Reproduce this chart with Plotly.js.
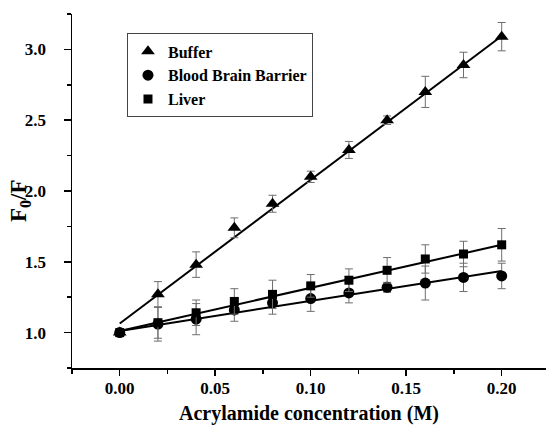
<!DOCTYPE html>
<html>
<head>
<meta charset="utf-8">
<script src="https://cdn.plot.ly/plotly-3.0.1.min.js"></script>
<style>html,body{margin:0;padding:0;background:#fff;}#chart{width:546px;height:427px;}</style>
</head>
<body>
<div id="chart"></div>
<script>
const conc = [0.00, 0.02, 0.04, 0.06, 0.08, 0.10, 0.12, 0.14, 0.16, 0.18, 0.20];
const buffer = [1.00, 1.27, 1.48, 1.74, 1.91, 2.10, 2.29, 2.50, 2.70, 2.89, 3.09];
const bufferErr = [0.02, 0.09, 0.09, 0.07, 0.06, 0.04, 0.06, 0.03, 0.11, 0.09, 0.10];
const bbb = [1.00, 1.06, 1.095, 1.16, 1.21, 1.24, 1.28, 1.32, 1.35, 1.39, 1.40];
const bbbErr = [0.02, 0.12, 0.11, 0.08, 0.08, 0.09, 0.07, 0.035, 0.12, 0.10, 0.09];
const liver = [1.00, 1.07, 1.14, 1.22, 1.27, 1.33, 1.37, 1.44, 1.52, 1.555, 1.62];
const liverErr = [0.02, 0.11, 0.09, 0.09, 0.10, 0.08, 0.08, 0.09, 0.10, 0.09, 0.115];
const fitX = [0.00, 0.20];
const bufferFit = [1.064, 3.095];
const bbbFit = [1.012, 1.435];
const liverFit = [1.012, 1.62];
const seriesNames = ['Buffer', 'Blood Brain Barrier', 'Liver'];
const xTitle = 'Acrylamide concentration (M)';
const yTitle = 'F<sub>0</sub>/F';

const FONT = '"Liberation Serif", "Times New Roman", serif';
const errStyle = {type: 'data', visible: true, color: '#6e6e6e', thickness: 1, width: 4};

function fitTrace(y) {
  return {x: fitX, y: y, mode: 'lines', line: {color: '#000', width: 2}, showlegend: false, hoverinfo: 'skip'};
}
function ptTrace(name, y, err, symbol, size) {
  return {x: conc, y: y, name: name, mode: 'markers',
    marker: {symbol: symbol, size: size, color: '#000'},
    error_y: Object.assign({array: err}, errStyle)};
}

const data = [
  fitTrace(bufferFit), fitTrace(bbbFit), fitTrace(liverFit),
  ptTrace(seriesNames[0], buffer, bufferErr, 'triangle-up', 12),
  ptTrace(seriesNames[1], bbb, bbbErr, 'circle', 11),
  ptTrace(seriesNames[2], liver, liverErr, 'square', 9)
];

const layout = {
  width: 546, height: 427,
  margin: {l: 72, r: 0, t: 14, b: 59},
  paper_bgcolor: '#fff', plot_bgcolor: '#fff',
  font: {family: FONT, color: '#000', weight: 700},
  showlegend: true,
  legend: {x: 0.116, y: 0.945, xanchor: 'left', yanchor: 'top',
    bordercolor: '#444', borderwidth: 1, bgcolor: '#fff',
    font: {family: FONT, size: 16, weight: 700, color: '#000'},
    entrywidth: 160, entrywidthmode: 'pixels',
    tracegroupgap: 0},
  xaxis: {
    range: [-0.025, 0.2232], autorange: false,
    showgrid: false, zeroline: false,
    showline: true, linecolor: '#000', linewidth: 1.5,
    ticks: 'outside', ticklen: 6, tickwidth: 1.5, tickcolor: '#000',
    tick0: 0, dtick: 0.05, tickformat: '.2f',
    minor: {dtick: 0.025, ticks: 'outside', ticklen: 4, tickwidth: 1.5, tickcolor: '#000', showgrid: false},
    tickfont: {family: FONT, size: 17, weight: 700},
    ticklabelstandoff: -2
  },
  yaxis: {
    range: [0.75, 3.25], autorange: false,
    showgrid: false, zeroline: false,
    showline: true, linecolor: '#000', linewidth: 1.5,
    ticks: 'outside', ticklen: 7, tickwidth: 1.5, tickcolor: '#000',
    tick0: 0, dtick: 0.5, tickformat: '.1f',
    minor: {dtick: 0.25, ticks: 'outside', ticklen: 4, tickwidth: 1.5, tickcolor: '#000', showgrid: false},
    tickfont: {family: FONT, size: 17, weight: 700},
    ticklabelstandoff: 14
  },
  annotations: [{
    text: yTitle, xref: 'paper', yref: 'paper', x: -0.1097, y: 0.4718,
    xanchor: 'center', yanchor: 'middle', textangle: -90, showarrow: false,
    font: {family: FONT, size: 23, weight: 700, color: '#000'}
  }, {
    text: xTitle, xref: 'paper', yref: 'paper', x: 0.5, y: -0.1667,
    xanchor: 'center', yanchor: 'bottom', showarrow: false,
    font: {family: FONT, size: 20, weight: 700, color: '#000'}
  }]
};

Plotly.newPlot('chart', data, layout, {displayModeBar: false, staticPlot: true});
</script>
</body>
</html>
